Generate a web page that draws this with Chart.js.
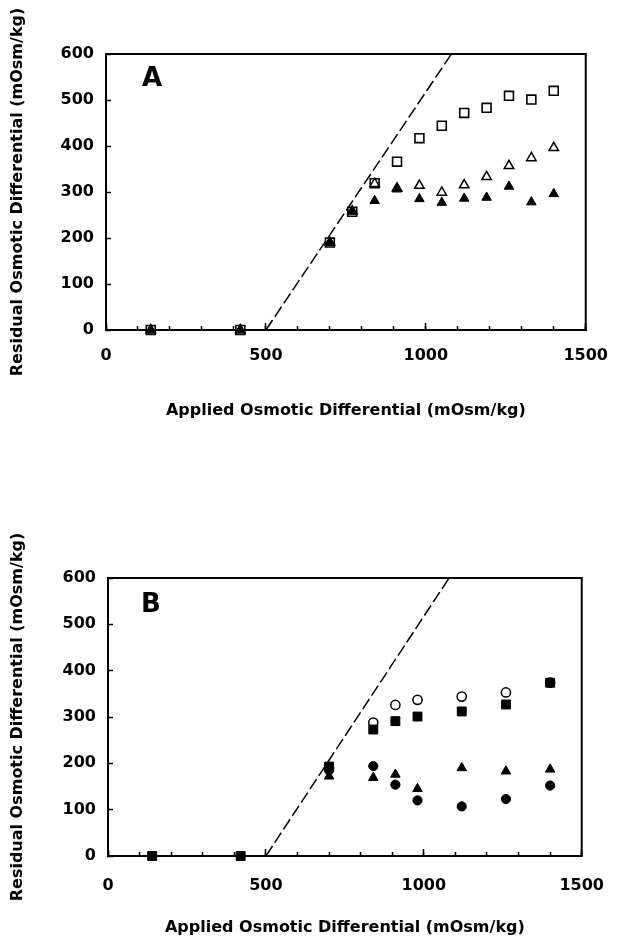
<!DOCTYPE html>
<html><head><meta charset="utf-8">
<script src="https://cdn.jsdelivr.net/npm/chart.js@4"></script>
<style>
html,body{margin:0;padding:0;background:#fff;width:628px;height:940px;overflow:hidden}
.p{position:absolute;left:0;width:628px}
</style></head><body>
<div class="p" style="top:0;height:450px"><canvas id="cA" width="628" height="450"></canvas></div>
<div class="p" style="top:480px;height:460px"><canvas id="cB" width="628" height="460"></canvas></div>
<script>
// ---- tick labels ----
const xTickLabels = [0, 500, 1000, 1500];
const yTickLabels = [0, 100, 200, 300, 400, 500, 600];

// ---- panel A ----
const xA = [140, 420, 700, 770, 840, 910, 980, 1050, 1120, 1190, 1260, 1330, 1400];
const openSquaresA    = [0, 0, 190, 257, 319, 366, 417, 444, 472, 483, 509, 501, 520];
const openTrianglesA  = [0, 0, 190, 258, 318, 308, 314, 299, 315, 333, 357, 374, 396];
const filledTrianglesA= [0, 0, 190, 258, 281, 306, 285, 277, 286, 288, 312, 278, 296];

// ---- panel B ----
const xB = [140, 420, 700, 840, 910, 980, 1120, 1260, 1400];
const filledSquaresB  = [0, 0, 193, 273, 291, 301, 312, 327, 374];
const openCirclesB    = [null, null, 190, 288, 326, 337, 344, 353, 374];
const filledTrianglesB= [null, null, 172, 169, 176, 145, 190, 183, 187];
const filledCirclesB  = [null, null, 185, 194, 154, 120, 107, 123, 152];

// ---- dashed reference line ----
const diagX = [500, 1080];
const diagY = [0, 600];

function pts(xs, ys){ return xs.map((x,i)=>({x:x, y:ys[i]})).filter(p=>p.y!==null); }

const FONT = 'DejaVu Sans';
const frame = { id:'frame', beforeDatasetsDraw(chart){
  const {ctx, chartArea:a} = chart; ctx.save(); ctx.strokeStyle='#000'; ctx.lineWidth=2;
  ctx.strokeRect(a.left, a.top, a.right-a.left, a.bottom-a.top); ctx.restore(); } };
const letter = { id:'letter', afterDraw(chart, args, o){
  const {ctx, chartArea:a} = chart; ctx.save(); ctx.font='bold 26px "DejaVu Sans"'; ctx.fillStyle='#000';
  ctx.textAlign='center'; ctx.textBaseline='middle'; ctx.fillText(o.text, a.left+o.dx, a.top+o.dy); ctx.restore(); } };

function ds(data, style, radius, fill, bw){
  return {data:data, pointStyle:style, pointRadius:radius, pointHoverRadius:radius,
    pointBackgroundColor:fill, pointBorderColor:'#000', pointBorderWidth:bw, showLine:false, clip:false};
}
function diag(){
  return {data:pts(diagX, diagY), showLine:true, borderColor:'#000', borderWidth:1.5, borderDash:[12,4],
    pointRadius:0, pointHoverRadius:0, fill:false, clip:false};
}
function opts(c){
  const tf = {family:FONT, weight:'bold', size:16};
  return {
    responsive:false, animation:false, devicePixelRatio:1, events:[],
    layout:{padding:{top:c.top, right:c.right, left:0, bottom:0}},
    plugins:{legend:{display:false}, tooltip:{enabled:false}, letter:{text:c.letter, dx:c.ldx, dy:c.ldy}},
    scales:{
      x2:{type:'linear', position:'bottom', min:0, max:1500, weight:0,
        afterFit(s){ s.height = 0; },
        border:{display:false},
        grid:{drawOnChartArea:false, drawTicks:true, tickLength:-7, tickWidth:1.5, tickColor:'#000'},
        ticks:{stepSize:500, display:false, autoSkip:false}},
      x:{type:'linear', position:'bottom', min:0, max:1500, weight:1,
        afterFit(s){ s.height = c.xh; },
        border:{display:true, width:2, color:'#000'},
        grid:{drawOnChartArea:false, drawTicks:true, tickLength:-4, tickWidth:1.5, tickColor:'#000'},
        ticks:{stepSize:100, autoSkip:false, maxRotation:0, padding:c.xtp, color:'#000', font:tf,
          callback:(v)=> xTickLabels.includes(v) ? String(v) : ''},
        title:{display:true, text:'Applied Osmotic Differential (mOsm/kg)', color:'#000', font:tf,
          padding:{top:0, bottom:c.xtb}}},
      y:{type:'linear', position:'left', min:0, max:600,
        afterFit(s){ s.width = c.yw; },
        border:{display:true, width:2, color:'#000'},
        grid:{drawOnChartArea:false, drawTicks:true, tickLength:-5, tickWidth:1.5, tickColor:'#000'},
        ticks:{stepSize:100, autoSkip:false, padding:17, color:'#000', font:tf,
          callback:(v)=> yTickLabels.includes(v) ? String(v) : ''},
        title:{display:true, text:'Residual Osmotic Differential (mOsm/kg)', color:'#000', font:tf,
          padding:{top:8, bottom:0}}}
    }
  };
}

new Chart(document.getElementById('cA'), {
  type:'scatter',
  data:{datasets:[
    ds(pts(xA, filledTrianglesA), 'triangle', 5.5, '#000', 1),
    ds(pts(xA, openTrianglesA), 'triangle', 5.5, '#fff', 1.5),
    ds(pts(xA, openSquaresA), 'rect', 6.3, '#fff', 1.6),
    diag()
  ]},
  options:opts({top:54, right:41, xh:120, xtp:20, xtb:30, yw:106, letter:'A', ldx:46, ldy:25}),
  plugins:[frame, letter]
});

new Chart(document.getElementById('cB'), {
  type:'scatter',
  data:{datasets:[
    ds(pts(xB, filledTrianglesB), 'triangle', 5.5, '#000', 1),
    ds(pts(xB, filledCirclesB), 'circle', 4.6, '#000', 1),
    ds(pts(xB, filledSquaresB), 'rect', 6.3, '#000', 1),
    ds(pts(xB, openCirclesB), 'circle', 4.6, '#fff', 1.5),
    diag()
  ]},
  options:opts({top:98, right:40, xh:84, xtp:24, xtb:3, yw:108, letter:'B', ldx:43, ldy:27}),
  plugins:[frame, letter]
});
</script>
</body></html>
